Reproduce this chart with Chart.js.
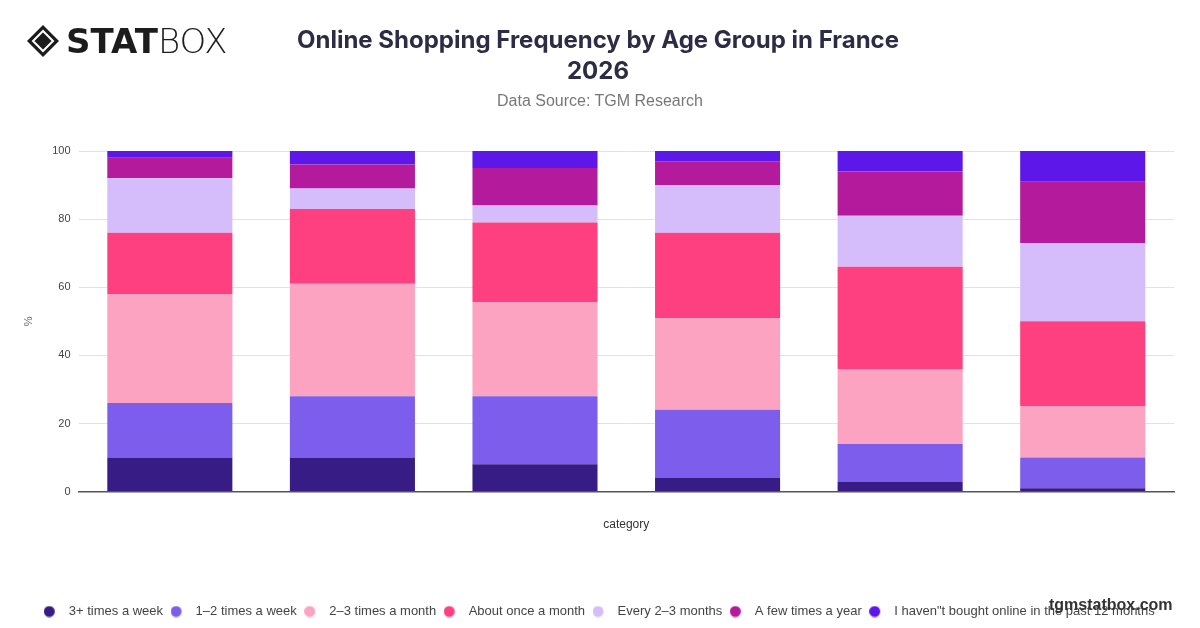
<!DOCTYPE html>
<html>
<head>
<meta charset="utf-8">
<script src="https://cdn.jsdelivr.net/npm/chart.js@4"></script>
<style>
    html, body { margin: 0; padding: 0; background: #fff; }
    #wrap { position: relative; width: 1200px; height: 628px; overflow: hidden; font-family: "Liberation Sans", Arial, sans-serif; }
    #chart { position: absolute; left: 0; top: 0; }
    .logo { position: absolute; left: 26px; top: 21px; display: flex; align-items: center; }
    .logo .stat { font-family: "DejaVu Sans", sans-serif; font-weight: 900; font-size: 34px; color: #1c1c1c; margin-left: 6px; }
    .logo .box { font-family: "DejaVu Sans", sans-serif; font-weight: 200; font-size: 34px; color: #1c1c1c; }
    .title { position: absolute; left: 0; width: 1196px; top: 24px; text-align: center; font-family: Inter, sans-serif; font-weight: 700; font-size: 24px; line-height: 31px; color: #2e2b45; }
    .subtitle { position: absolute; left: 0; width: 1200px; top: 92px; text-align: center; font-size: 16px; color: #777; }
    .mark { position: absolute; left: 1049px; top: 596px; font-family: "Liberation Sans", Arial, sans-serif; font-weight: 700; font-size: 16px; color: #333; }
</style>
</head>
<body>
<div id="wrap">
    <canvas id="chart" width="1200" height="628"></canvas>
    <div class="logo">
        <svg width="34" height="34" viewBox="0 0 34 34">
            <polygon points="17,1 33,17 17,33 1,17" fill="#1c1c1c"/>
            <polygon points="17,7 27,17 17,27 7,17" fill="none" stroke="#fff" stroke-width="2"/>
        </svg>
        <span class="stat">STAT</span><span class="box">BOX</span>
    </div>
    <div class="title">Online Shopping Frequency by Age Group in France<br>2026</div>
    <div class="subtitle">Data Source: TGM Research</div>
    <div class="mark">tgmstatbox.com</div>
</div>
<script>
// age groups (not printed on the axis in the original)
const categories = ["16–24", "25–34", "35–44", "45–54", "55–64", "65+"];

const seriesNames = [
    "3+ times a week",
    "1–2 times a week",
    "2–3 times a month",
    "About once a month",
    "Every 2–3 months",
    "A few times a year",
    "I haven\"t bought online in the past 12 months",
];

const seriesColors = ["#381c86", "#7d5eec", "#fca3c2", "#fe4080", "#d5bdfb", "#b31a9c", "#5d17e9"];

// values in %, one array per frequency
const timesWeek3 = [10, 10, 8, 4, 3, 1];
const timesWeek12 = [16, 18, 20, 20, 11, 9];
const timesMonth23 = [32, 33, 27.5, 27, 22, 15];
const onceMonth = [18, 22, 23.5, 25, 30, 25];
const every23Months = [16, 6, 5, 14, 15, 23];
const fewTimesYear = [6, 7, 11, 7, 13, 18];
const notBought = [2, 4, 5, 3, 6, 9];

const yTicks = [0, 20, 40, 60, 80, 100];

const seriesValues = [timesWeek3, timesWeek12, timesMonth23, onceMonth, every23Months, fewTimesYear, notBought];

// legend marker: a small dot drawn a bit left of the box centre,
// so the gap to the label is wider than chart.js gives by default
function legendDot(color) {
    const c = document.createElement("canvas");
    c.width = 24;
    c.height = 12;
    const g = c.getContext("2d");
    g.fillStyle = color;
    g.beginPath();
    g.arc(5.5, 6, 5.5, 0, Math.PI * 2);
    g.fill();
    return c;
}
const legendDots = seriesColors.map(legendDot);

// pull the legend up a little and nudge it right, like the original
const legendShift = {
    id: "legendShift",
    beforeInit(chart) {
        const legend = chart.legend;
        const fit = legend.fit;
        legend.fit = function () {
            fit.call(this);
            this.height -= 8;
        };
        const draw = legend.draw;
        legend.draw = function () {
            const c = this.ctx;
            c.save();
            c.translate(6, 0);
            draw.call(this);
            c.restore();
        };
    },
};

const ctx = document.getElementById("chart");

new Chart(ctx, {
    type: "bar",
    data: {
        labels: categories,
        datasets: seriesNames.map((name, i) => ({
            label: name,
            data: seriesValues[i],
            backgroundColor: seriesColors[i],
            borderWidth: 0,
            barPercentage: 0.685,
            categoryPercentage: 1,
        })),
    },
    options: {
        responsive: false,
        animation: false,
        layout: { padding: { top: 151, left: 18, right: 26, bottom: 8 } },
        plugins: {
            legend: {
                position: "bottom",
                labels: {
                    usePointStyle: true,
                    padding: 13,
                    color: "#444",
                    font: { size: 13, family: "'Liberation Sans', Arial, sans-serif" },
                    generateLabels: (chart) => {
                        const items = Chart.defaults.plugins.legend.labels.generateLabels(chart);
                        items.forEach((item, i) => {
                            item.pointStyle = legendDots[i];
                        });
                        return items;
                    },
                },
            },
            tooltip: { enabled: false },
        },
        scales: {
            x: {
                stacked: true,
                grid: { display: false, drawTicks: false },
                border: { display: true, color: "#555", width: 1.5 },
                ticks: { display: false },
                title: {
                    display: true,
                    text: "category",
                    color: "#333",
                    font: { size: 12, family: "'Liberation Sans', Arial, sans-serif" },
                    padding: { top: 26, bottom: 60 },
                },
            },
            y: {
                stacked: true,
                min: 0,
                max: 100,
                afterBuildTicks: (axis) => {
                    axis.ticks = yTicks.map((v) => ({ value: v }));
                },
                grid: { color: "#e2e2e2", drawTicks: false },
                border: { display: false },
                ticks: {
                    padding: 8,
                    color: "#444",
                    font: { size: 11, family: "'Liberation Sans', Arial, sans-serif" },
                },
                title: {
                    display: true,
                    text: "%",
                    color: "#666",
                    font: { size: 11, family: "'Liberation Sans', Arial, sans-serif" },
                    padding: { top: 4, bottom: 9 },
                },
            },
        },
    },
    plugins: [legendShift],
});
</script>
</body>
</html>
